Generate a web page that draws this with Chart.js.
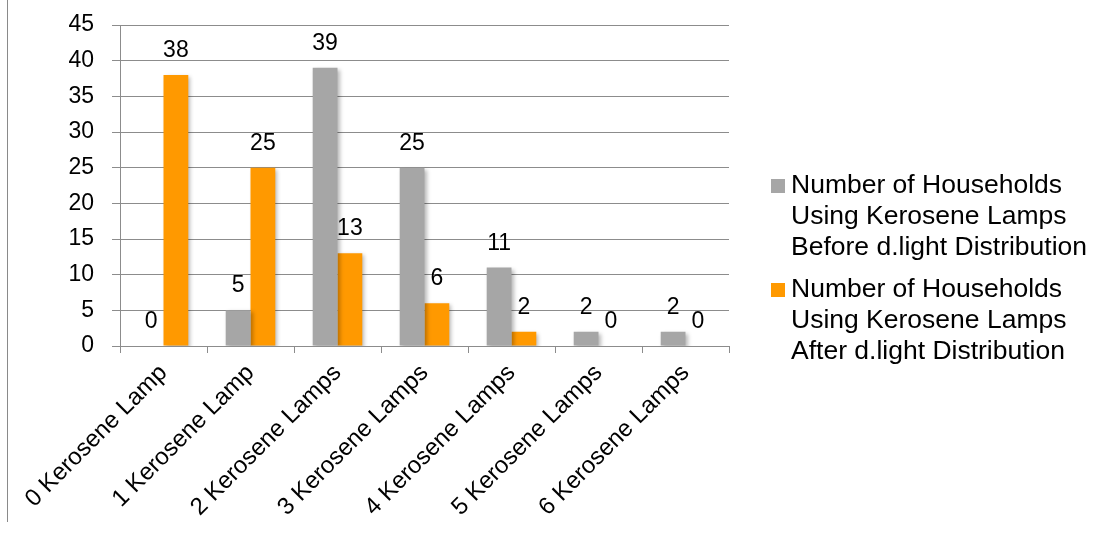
<!DOCTYPE html>
<html>
<head>
<meta charset="utf-8">
<script src="https://cdn.jsdelivr.net/npm/chart.js@4/dist/chart.umd.min.js"></script>
<style>
  html,body{margin:0;padding:0;background:#fff;}
  #wrap{position:relative;width:1109px;height:533px;}
  #frame{position:absolute;left:7px;top:0;width:0;height:522px;border-left:1px solid #8a8a8a;}
</style>
</head>
<body>
<div id="wrap">
  <div id="frame"></div>
  <canvas id="c" width="1109" height="533"></canvas>
</div>
<script>
// ── data ──
const categories = ['0 Kerosene Lamp','1 Kerosene Lamp','2 Kerosene Lamps','3 Kerosene Lamps','4 Kerosene Lamps','5 Kerosene Lamps','6 Kerosene Lamps'];
const beforeValues = [0, 5, 39, 25, 11, 2, 2];
const afterValues  = [38, 25, 13, 6, 2, 0, 0];
const beforeName = ['Number of Households','Using Kerosene Lamps','Before d.light Distribution'];
const afterName  = ['Number of Households','Using Kerosene Lamps','After d.light Distribution'];
const yTicks = [0,5,10,15,20,25,30,35,40,45];

const FONT = "'Liberation Sans', Arial, sans-serif";
const GRID = '#8c8c8c';

// soft drop shadow behind the bars
const barShadow = {
  id:'barShadow',
  beforeDatasetsDraw(chart){
    const ctx = chart.ctx;
    ctx.save();
    ctx.shadowColor = 'rgba(0,0,0,0.28)';
    ctx.shadowBlur = 4;
    ctx.shadowOffsetX = 2;
    ctx.shadowOffsetY = 2;
  },
  afterDatasetsDraw(chart){
    chart.ctx.restore();
  }
};

// value above each bar
const valueLabels = {
  id:'valueLabels',
  afterDraw(chart){
    const ctx = chart.ctx;
    ctx.save();
    ctx.font = '23px ' + FONT;
    ctx.fillStyle = '#000';
    ctx.textAlign = 'center';
    ctx.textBaseline = 'alphabetic';
    chart.data.datasets.forEach((ds,i)=>{
      chart.getDatasetMeta(i).data.forEach((bar,j)=>{
        ctx.fillText(String(ds.data[j]), bar.x, bar.y - 18);
      });
    });
    ctx.restore();
  }
};

// legend on the right, wrapped over three lines
const sideLegend = {
  id:'sideLegend',
  afterDraw(chart){
    const ctx = chart.ctx;
    const x = chart.chartArea.right + 42;
    let base = 193;
    ctx.save();
    ctx.font = '26.5px ' + FONT;
    ctx.textAlign = 'left';
    ctx.textBaseline = 'alphabetic';
    chart.data.datasets.forEach(ds=>{
      ctx.fillStyle = ds.backgroundColor;
      ctx.fillRect(x, base - 14, 14, 14);
      ctx.fillStyle = '#000';
      ds.lines.forEach((t,k)=>{
        ctx.fillText(t, x + 20, base + k*31);
      });
      base += 2*31 + 42;
    });
    ctx.restore();
  }
};

new Chart(document.getElementById('c'),{
  type:'bar',
  data:{
    labels:categories,
    datasets:[
      {label:beforeName.join(' '), lines:beforeName, data:beforeValues, backgroundColor:'#a6a6a6'},
      {label:afterName.join(' '),  lines:afterName,  data:afterValues,  backgroundColor:'#ff9900'}
    ]
  },
  options:{
    responsive:false,
    animation:false,
    devicePixelRatio:1,
    layout:{padding:{left:0,right:380,top:25,bottom:0}},
    datasets:{bar:{categoryPercentage:0.57, barPercentage:1.0}},
    plugins:{legend:{display:false}, tooltip:{enabled:false}},
    scales:{
      x:{
        offset:true,
        grid:{offset:true, drawOnChartArea:false, drawTicks:true, tickLength:7, color:GRID, lineWidth:1},
        border:{color:GRID, width:1},
        ticks:{font:{family:FONT,size:24}, color:'#000', minRotation:45, maxRotation:45, padding:6, autoSkip:false},
        afterFit(s){ s.height = 187; s.paddingTop = 0; s.paddingBottom = 0; }
      },
      y:{
        min:0, max:45,
        afterBuildTicks(s){ s.ticks = yTicks.map(v=>({value:v})); },
        grid:{color:GRID, lineWidth:1, tickLength:8},
        border:{color:GRID, width:1},
        ticks:{font:{family:FONT,size:23}, color:'#000', padding:18},
        afterFit(s){ s.width = 120; s.paddingTop = 0; s.paddingBottom = 0; }
      }
    }
  },
  plugins:[barShadow, valueLabels, sideLegend]
});
</script>
</body>
</html>
